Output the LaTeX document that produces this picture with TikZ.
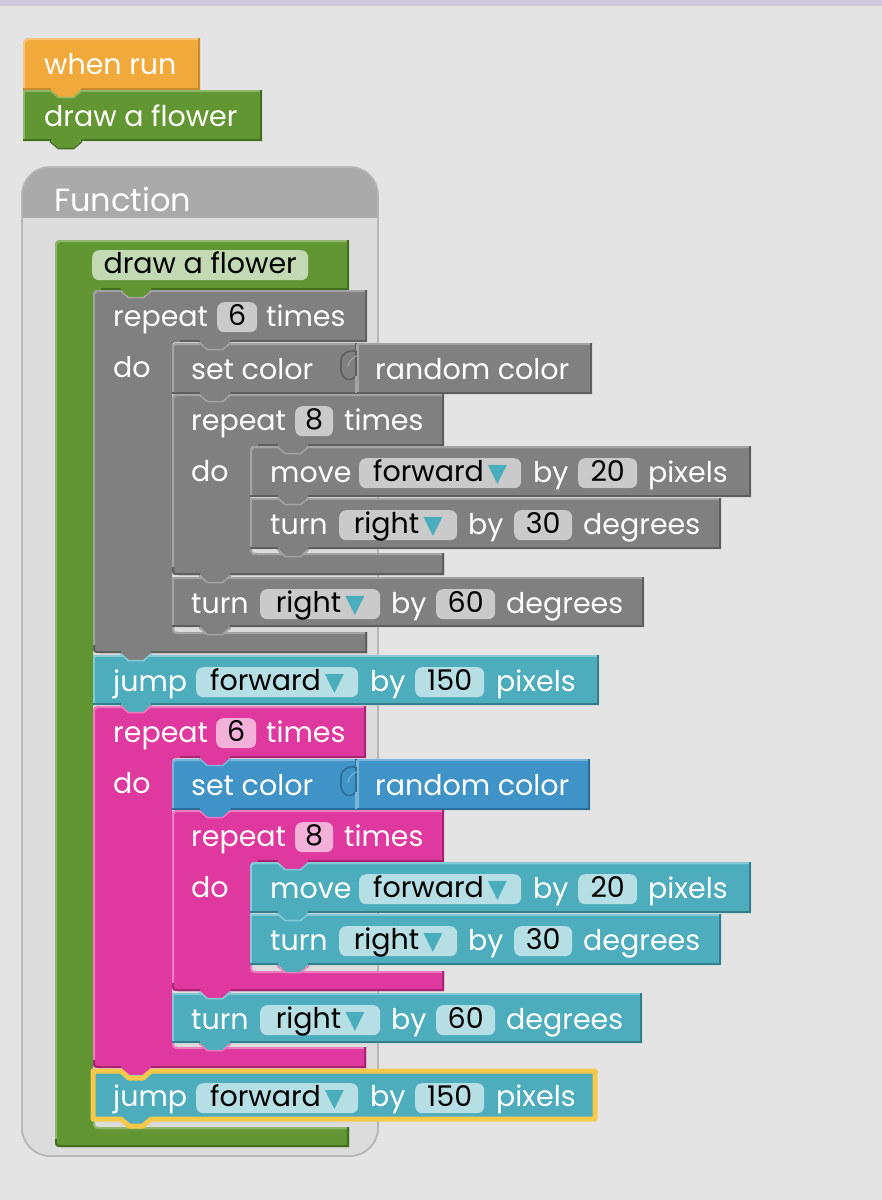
\documentclass[tikz,border=0pt]{standalone}
\usepackage{fontspec}
\setmainfont{Poppins}
\newfontfamily\symfont{DejaVu Sans}

% workspace and frame
\definecolor{bg}{HTML}{E4E4E4}
\definecolor{topbar}{HTML}{CFC9DD}
\definecolor{fnhead}{HTML}{AAAAAA}
\definecolor{fnbody}{HTML}{DCDCDC}
\definecolor{fnline}{HTML}{B5B5B5}
\definecolor{sel}{HTML}{F7C94B}
\definecolor{arr}{HTML}{4AADBD}
% block colours: base, L = highlight, D = shadow, P = field
\definecolor{or}{HTML}{F2A93B}\definecolor{orL}{HTML}{F7C47A}\definecolor{orD}{HTML}{C98A2E}
\definecolor{gr}{HTML}{629632}\definecolor{grL}{HTML}{8DB86A}\definecolor{grD}{HTML}{426E1F}\definecolor{grP}{HTML}{C3D9B3}
\definecolor{gy}{HTML}{808080}\definecolor{gyL}{HTML}{A3A3A3}\definecolor{gyD}{HTML}{5E5E5E}\definecolor{gyP}{HTML}{CACACA}
\definecolor{te}{HTML}{4EADBD}\definecolor{teL}{HTML}{84CAD5}\definecolor{teD}{HTML}{327E8B}\definecolor{teP}{HTML}{B6DFE5}
\definecolor{pi}{HTML}{DF389E}\definecolor{piL}{HTML}{EC7CC0}\definecolor{piD}{HTML}{A62471}\definecolor{piP}{HTML}{F3B0D8}
\definecolor{bl}{HTML}{3F93C6}\definecolor{blL}{HTML}{78B4DC}\definecolor{blD}{HTML}{2B6D97}

\newcommand{\blk}{\fontsize{28.5}{32}\selectfont}
\newcommand{\dd}{\hspace{4pt}{\symfont\fontsize{25}{28}\selectfont\color{arr}▼}}

% statement block: colour, left, top, right, bottom, corner radius
\newcommand{\sblock}[6]{%
  \fill[#1] (#2,#5) -- (#2,#3+#6) .. controls (#2,#3) .. (#2+#6,#3) -- (#4,#3) -- (#4,#5) -- cycle;
  \draw[#1L, line width=2] (#2+1,#5) -- (#2+1,#3+#6) .. controls (#2+1,#3+1) .. (#2+#6,#3+1) -- (#4-1,#3+1);
  \draw[#1D, line width=2] (#4-1,#3) -- (#4-1,#5-1) -- (#2,#5-1);
}
% C-shaped block: colour, left, top, right, top-arm bottom, arm right, bottom-arm top, bottom
\newcommand{\cblock}[8]{%
  \fill[#1] (#2,#8-8) -- (#2,#3+10) .. controls (#2,#3) .. (#2+10,#3) -- (#4,#3) -- (#4,#5)
    -- (#6+8,#5) .. controls (#6,#5) .. (#6,#5+8) -- (#6,#7-8) .. controls (#6,#7) .. (#6+8,#7)
    -- (#4,#7) -- (#4,#8) -- (#2+8,#8) .. controls (#2,#8) .. (#2,#8-8) -- cycle;
  \draw[#1L, line width=2] (#2+1,#8-8) -- (#2+1,#3+10) .. controls (#2+1,#3+1) .. (#2+10,#3+1) -- (#4-1,#3+1);
  \draw[#1L, line width=2] (#6+1,#7-8) .. controls (#6+1,#7+1) .. (#6+8,#7+1) -- (#4-1,#7+1);
  \draw[#1D, line width=2] (#4-1,#3) -- (#4-1,#5-1) -- (#6+8,#5-1);
  \draw[#1D, line width=2] (#4-1,#7) -- (#4-1,#8-1) -- (#2+8,#8-1) .. controls (#2+1,#8-1) .. (#2+1,#8-8);
}
% connection tab below a block: upper colour, outline colour, block left, block bottom
\newcommand{\tabn}[4]{%
  \fill[#1] (#3+28,#4-2.5) -- (#3+28,#4) -- (#3+36,#4+7) -- (#3+50,#4+7) -- (#3+58,#4) -- (#3+58,#4-2.5) -- cycle;
  \draw[#2, line width=1.5] (#3+27,#4+0.5) -- (#3+35.5,#4+7.7) -- (#3+50.5,#4+7.7) -- (#3+59,#4+0.5);
}
% value-input puzzle joint: colour, x of joint, block top
\newcommand{\joint}[3]{%
  \draw[#1L, line width=1.2] (#2,#3+1) -- (#2,#3+8);
  \draw[#1D, line width=1.6] (#2-1,#3+8) .. controls (#2-7,#3+7) and (#2-16,#3+9) .. (#2-16,#3+18)
    -- (#2-16,#3+27) .. controls (#2-15,#3+37) and (#2-7,#3+39) .. (#2-1,#3+33);
  \draw[#1L, line width=1.2] (#2-1,#3+33) -- (#2-1,#3+50);
  \draw[#1L, line width=1] (#2+1.5,#3+12) .. controls (#2-4,#3+14) and (#2-9,#3+18) .. (#2-9,#3+24);
}

\tikzset{
  lbl/.style={anchor=base west, inner sep=0pt, text=white, font=\blk},
  pill/.style={anchor=north west, inner sep=0pt, rounded corners=7pt, minimum height=30pt,
    text height=21pt, text depth=4pt, text=black, font=\blk, align=center},
}
% text label: name, x, baseline, text
\newcommand{\lbl}[4]{\node[lbl] (#1) at (#2,#3) {#4};}
% field: name, fill, x, top, width, text
\newcommand{\fld}[6]{\node[pill, fill=#2, minimum width=#5pt] (#1) at (#3,#4) {#6};}

\begin{document}
\begin{tikzpicture}[x=1pt, y=-1pt]
\useasboundingbox (0,0) rectangle (882,1200);
\fill[bg] (0,0) rectangle (882,1200);
\fill[topbar] (0,0) rectangle (882,6);

% ---- top-level script ----
\sblock{or}{23}{38}{200}{90}{12}
\sblock{gr}{23}{90}{262}{141}{1}
\lbl{whenrun}{44}{74}{when run}
\lbl{call}{44}{126}{draw a flower}

% ---- function definition frame ----
\draw[fnline, line width=1.5, fill=fnbody, rounded corners=28pt] (22,167) rectangle (378,1156);
\begin{scope}
  \clip[rounded corners=28pt] (22,167) rectangle (378,1156);
  \fill[fnhead] (22,167) rectangle (378,218);
\end{scope}
\draw[fnline, line width=1.5, rounded corners=28pt] (22,167) rectangle (378,1156);
\node[lbl, font=\fontsize{32}{36}\selectfont] (fnlabel) at (54,211) {Function};

% function body
\cblock{gr}{55}{240}{349}{290}{93}{1127}{1147}
\fld{fname}{grP}{92}{250}{216}{draw a flower}

% outer grey repeat
\cblock{gy}{93}{290}{367}{342}{172}{632}{653}
\lbl{rpA}{113}{326}{repeat}
\fld{nA}{gyP}{217}{302}{40}{6}
\lbl{tmA}{266}{326}{times}
\lbl{doA}{113}{377}{do}

\sblock{gy}{172}{343}{357}{394}{9}
\sblock{gy}{357}{343}{592}{394}{1}
\joint{gy}{357}{343}
\lbl{scA}{191}{379}{set color}
\lbl{rcA}{375}{379}{random color}

\cblock{gy}{172}{394}{444}{446}{250}{553}{575}
\lbl{rpB}{191}{430}{repeat}
\fld{nB}{gyP}{295}{406}{38}{8}
\lbl{tmB}{344}{430}{times}
\lbl{doB}{191}{481}{do}

\sblock{gy}{250}{446}{751}{497}{9}
\lbl{mvA}{270}{482}{move}
\fld{fwA}{gyP}{359}{458}{162}{forward\dd}
\lbl{byA}{533}{482}{by}
\fld{dA}{gyP}{578}{458}{59}{20}
\lbl{pxA}{648}{482}{pixels}

\sblock{gy}{250}{498}{721}{549}{1}
\lbl{tuA}{270}{534}{turn}
\fld{rtA}{gyP}{339}{510}{118}{right\dd}
\lbl{byB}{468}{534}{by}
\fld{aA}{gyP}{514}{510}{58}{30}
\lbl{dgA}{583}{534}{degrees}

\sblock{gy}{172}{577}{644}{627}{1}
\lbl{tuB}{191}{613}{turn}
\fld{rtB}{gyP}{260}{589}{120}{right\dd}
\lbl{byC}{391}{613}{by}
\fld{aB}{gyP}{436}{589}{59}{60}
\lbl{dgB}{506}{613}{degrees}

\sblock{te}{93}{655}{599}{705}{1}
\lbl{jpA}{113}{691}{jump}
\fld{fwB}{teP}{196}{667}{162}{forward\dd}
\lbl{byD}{370}{691}{by}
\fld{dB}{teP}{415}{667}{69}{150}
\lbl{pxB}{496}{691}{pixels}

% outer pink repeat
\cblock{pi}{93}{706}{366}{758}{172}{1047}{1068}
\lbl{rpC}{113}{742}{repeat}
\fld{nC}{piP}{216}{718}{40}{6}
\lbl{tmC}{266}{742}{times}
\lbl{doC}{113}{793}{do}

\sblock{bl}{172}{759}{357}{810}{9}
\sblock{bl}{357}{759}{590}{810}{1}
\joint{bl}{357}{759}
\lbl{scB}{191}{795}{set color}
\lbl{rcB}{375}{795}{random color}

\cblock{pi}{172}{810}{444}{862}{250}{971}{991}
\lbl{rpD}{191}{846}{repeat}
\fld{nD}{piP}{295}{822}{38}{8}
\lbl{tmD}{344}{846}{times}
\lbl{doD}{191}{897}{do}

\sblock{te}{250}{862}{751}{913}{9}
\lbl{mvB}{270}{898}{move}
\fld{fwC}{teP}{359}{874}{162}{forward\dd}
\lbl{byE}{533}{898}{by}
\fld{dC}{teP}{578}{874}{59}{20}
\lbl{pxC}{648}{898}{pixels}

\sblock{te}{250}{914}{721}{965}{1}
\lbl{tuC}{270}{950}{turn}
\fld{rtC}{teP}{339}{926}{118}{right\dd}
\lbl{byF}{468}{950}{by}
\fld{aC}{teP}{514}{926}{58}{30}
\lbl{dgC}{583}{950}{degrees}

\sblock{te}{172}{993}{642}{1043}{1}
\lbl{tuD}{191}{1029}{turn}
\fld{rtD}{teP}{260}{1005}{120}{right\dd}
\lbl{byG}{391}{1029}{by}
\fld{aD}{teP}{436}{1005}{59}{60}
\lbl{dgD}{506}{1029}{degrees}

\sblock{te}{93}{1071}{595}{1119}{1}

% ---- connection tabs ----
\tabn{or}{grL}{23}{90}
\tabn{gr}{grD}{23}{141}
\tabn{gr}{gyL}{93}{290}
\tabn{gy}{gyL}{172}{342}
\tabn{gy}{gyL}{172}{394}
\tabn{gy}{gyL}{250}{446}
\tabn{gy}{gyL}{250}{497}
\tabn{gy}{gyL}{250}{549}
\tabn{gy}{gyL}{172}{575}
\tabn{gy}{gyL}{172}{627}
\tabn{gy}{teL}{93}{653}
\tabn{te}{piL}{93}{705}
\tabn{pi}{blL}{172}{758}
\tabn{bl}{piL}{172}{810}
\tabn{pi}{teL}{250}{862}
\tabn{te}{teL}{250}{913}
\tabn{te}{piL}{250}{965}
\tabn{pi}{teL}{172}{991}
\tabn{te}{piL}{172}{1043}
\tabn{pi}{teL}{93}{1068}
\tabn{te}{grL}{93}{1119}

% selected block outline
\draw[sel, line width=5, line join=round]
  (93,1071) -- (121,1071) -- (129,1078) -- (143,1078) -- (151,1071) -- (595,1071) -- (595,1119)
  -- (151,1119) -- (143,1126) -- (129,1126) -- (121,1119) -- (93,1119) -- cycle;
\lbl{jpB}{113}{1106}{jump}
\fld{fwD}{teP}{196}{1083}{162}{forward\dd}
\lbl{byH}{370}{1106}{by}
\fld{dD}{teP}{415}{1083}{69}{150}
\lbl{pxD}{496}{1106}{pixels}
\end{tikzpicture}
\end{document}
